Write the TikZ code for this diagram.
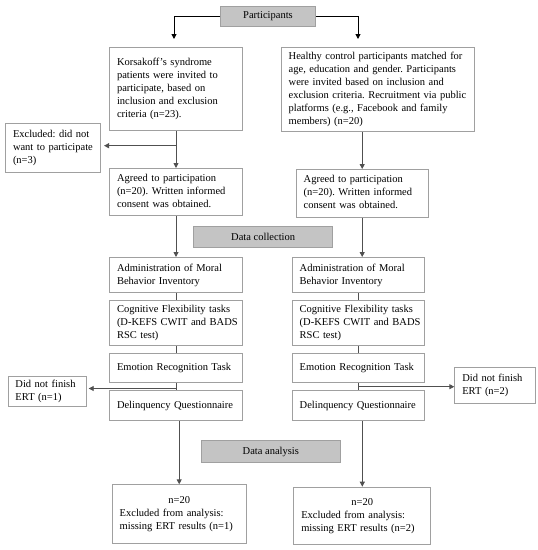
\documentclass[tikz,border=0pt]{standalone}
\usepackage{fontspec}
\setmainfont{Liberation Serif}
\usetikzlibrary{arrows.meta}
\frenchspacing
\definecolor{boxline}{HTML}{A0A0A0}
\definecolor{grayfill}{HTML}{C4C4C4}
\definecolor{conn}{HTML}{505050}
\newcommand{\lns}[1]{\begin{tabular}{@{}l@{}}#1\end{tabular}}
\tikzset{
  txt/.style={font=\fontsize{10.5}{13}\selectfont},
  wbox/.style={txt, draw=boxline, line width=1pt, fill=white, anchor=north west,
    inner xsep=7.5pt, inner ysep=2pt, align=left},
  gbox/.style={txt, draw=boxline, line width=1pt, fill=grayfill, anchor=north west,
    inner sep=2pt, align=center},
  arr/.style={draw=conn, line width=0.9pt, -{Triangle[length=5pt,width=5pt]}},
  arrb/.style={draw=black, line width=1pt, -{Triangle[length=5pt,width=5pt]}},
  ln/.style={draw=conn, line width=0.9pt},
}
\begin{document}
\begin{tikzpicture}[x=1pt,y=-1pt]
\useasboundingbox (0,0) rectangle (538,550);
% gray headers
\node[gbox, minimum width=95pt, minimum height=20pt] (part) at (220,6) {Participants};
\node[gbox, minimum width=139.3pt, minimum height=21.3pt] (dc) at (193,226) {Data collection};
\node[gbox, minimum width=139.3pt, minimum height=22pt] (da) at (200.7,440) {Data analysis};
% left column
\node[wbox, minimum width=133pt, minimum height=83pt, text width=118pt] (k1) at (109,47)
 {\lns{Korsakoff’s syndrome\\patients were invited to\\participate, based on\\inclusion and exclusion\\criteria (n=23).}};
\node[wbox, minimum width=133pt, minimum height=47pt, text width=118pt] (k2) at (109,168)
 {\lns{Agreed to participation\\(n=20). Written informed\\consent was obtained.}};
\node[wbox, minimum width=133pt, minimum height=35pt, text width=118pt] (k3) at (109,257)
 {\lns{Administration of Moral\\Behavior Inventory}};
\node[wbox, minimum width=133pt, minimum height=45pt, text width=118pt] (k4) at (109,300)
 {\lns{Cognitive Flexibility tasks\\(D-KEFS CWIT and BADS\\RSC test)}};
\node[wbox, minimum width=133pt, minimum height=29pt, text width=118pt] (k5) at (109,353)
 {\lns{Emotion Recognition Task}};
\node[wbox, minimum width=133pt, minimum height=30pt, text width=118pt] (k6) at (109,390)
 {\lns{Delinquency Questionnaire}};
\node[wbox, minimum width=134pt, minimum height=58.4pt, text width=119pt] (k7) at (111.7,484.3)
 {\makebox[\linewidth][c]{n=20}\\Excluded from analysis:\\missing ERT results (n=1)};
% right column
\node[wbox, minimum width=193.6pt, minimum height=84pt, text width=178.6pt] (h1) at (280.7,47)
 {\lns{Healthy control participants matched for\\age, education and gender. Participants\\were invited based on inclusion and\\exclusion criteria. Recruitment via public\\platforms (e.g., Facebook and family\\members) (n=20)}};
\node[wbox, minimum width=132pt, minimum height=47.7pt, text width=117pt] (h2) at (295.7,169)
 {\lns{Agreed to participation\\(n=20). Written informed\\consent was obtained.}};
\node[wbox, minimum width=132.3pt, minimum height=35pt, text width=117.3pt] (h3) at (291.7,257)
 {\lns{Administration of Moral\\Behavior Inventory}};
\node[wbox, minimum width=132.3pt, minimum height=45pt, text width=117.3pt] (h4) at (291.7,300)
 {\lns{Cognitive Flexibility tasks\\(D-KEFS CWIT and BADS\\RSC test)}};
\node[wbox, minimum width=132.3pt, minimum height=29pt, text width=117.3pt] (h5) at (291.7,353)
 {\lns{Emotion Recognition Task}};
\node[wbox, minimum width=132.3pt, minimum height=30pt, text width=117.3pt] (h6) at (291.7,390)
 {\lns{Delinquency Questionnaire}};
\node[wbox, minimum width=137pt, minimum height=57.3pt, text width=122pt] (h7) at (293.3,486.7)
 {\makebox[\linewidth][c]{n=20}\\Excluded from analysis:\\missing ERT results (n=2)};
% side boxes
\node[wbox, minimum width=95pt, minimum height=49.3pt, text width=80pt] (ex1) at (5,122.7)
 {\lns{Excluded: did not\\want to participate\\(n=3)}};
\node[wbox, minimum width=78.5pt, minimum height=30pt, text width=63.5pt] (ex2) at (7.5,376)
 {\lns{Did not finish\\ERT (n=1)}};
\node[wbox, minimum width=81pt, minimum height=36.6pt, text width=66pt] (ex3) at (454.3,366.7)
 {\lns{Did not finish\\ERT (n=2)}};
% coordinates
\coordinate (pl) at (174,47);
\coordinate (pr) at (358,47);
\coordinate (b1) at (175.5,145.7);
\coordinate (b2) at (175.5,388.5);
\coordinate (b3) at (358,386.7);
% connectors
\draw[arrb, shorten >=8pt] (part.west) -| (pl);
\draw[arrb, shorten >=8pt] (part.east) -| (pr);
\draw[arr] (k1.south) -- (k2.north);
\draw[arr, shorten >=3pt] (b1) -- (b1 -| ex1.east);
\draw[arr] (h2.north |- h1.south) -- (h2.north);
\draw[arr] (k3.north |- k2.south) -- (k3.north);
\draw[arr] (h2.south) -- (h2.south |- h3.north);
\draw[ln] (k3.south) -- (k4.north);
\draw[ln] (k4.south) -- (k5.north);
\draw[ln] (k5.south) -- (k6.north);
\draw[ln] (h3.south) -- (h4.north);
\draw[ln] (h4.south) -- (h5.north);
\draw[ln] (h5.south) -- (h6.north);
\draw[arr, shorten >=1.7pt] (b2) -- (b2 -| ex2.east);
\draw[arr] (b3) -- (b3 -| ex3.west);
\draw[arr] (k7.north |- k6.south) -- (k7.north);
\draw[arr] (h7.north |- h6.south) -- (h7.north);
\end{tikzpicture}
\end{document}
